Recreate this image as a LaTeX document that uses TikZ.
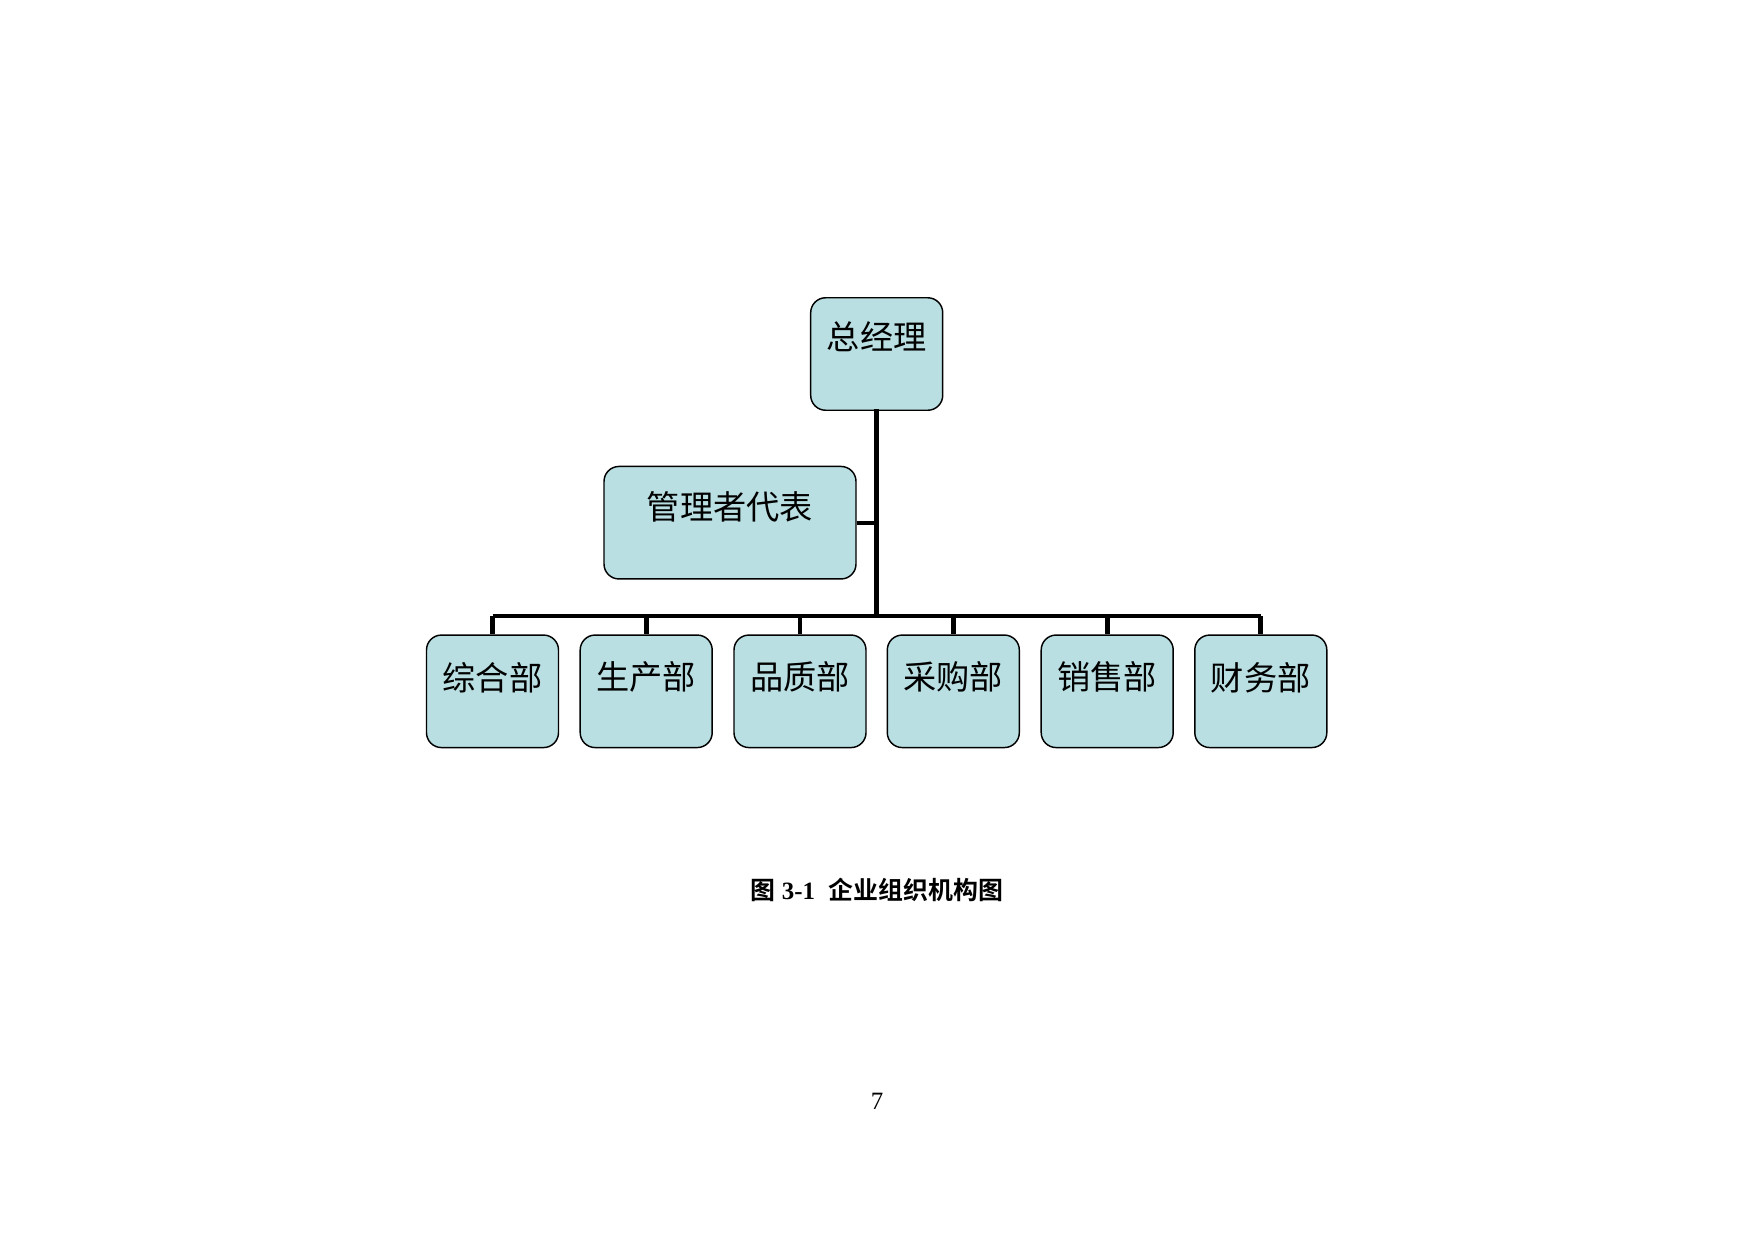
\documentclass[tikz,border=0pt]{standalone}
\usepackage{fontspec}
\setmainfont{Liberation Serif}
\newfontfamily\cjk{Noto Sans CJK SC}
\newfontfamily\cjkb{Noto Sans CJK SC Bold}
\definecolor{boxfill}{RGB}{185,223,226}
\tikzset{
  orgbox/.style={draw=black, line width=0.7pt, fill=boxfill, rounded corners=7.2pt,
    minimum width=63.6pt, minimum height=54.2pt, inner sep=0pt},
  widebox/.style={orgbox, minimum width=121.4pt},
  boxtext/.style={inner sep=0pt, font=\cjk\fontsize{16pt}{18pt}\selectfont},
  conn/.style={line width=2.25pt, line cap=rect},
  stub/.style={line width=2pt}
}
\begin{document}
\begin{tikzpicture}[x=0.48177pt, y=-0.48177pt]
\useasboundingbox (0,0) rectangle (1754,1241);
% top box
\node[orgbox] (gm) at (876.7,354) {};
\node[boxtext] (gmt) at (876.7,337) {总经理};
% management representative
\node[widebox] (mr) at (730,522.7) {};
\node[boxtext] (mrt) at (730,507) {管理者代表};
% departments
\foreach \i/\x/\t in {1/492.5/综合部, 2/646.2/生产部, 3/800/品质部, 4/953.3/采购部, 5/1107.2/销售部, 6/1260.8/财务部}{
  \node[orgbox] (d\i) at (\x,691.3) {};
  \node[boxtext] (d\i t) at (\x,677.3) {\t};
}
% connectors
\coordinate (busmid) at (876.7,616);
\coordinate (busL) at (492.5,616);
\coordinate (busR) at (1260.8,616);
\draw[conn] (gm.south) -- (busmid);
\draw[line width=2.25pt] (busL) -- (busR);
\foreach \i in {1,...,6}{
  \draw[line width=2.25pt] (d\i.north |- busL) -- (d\i.north);
}
\draw[stub] (mr.east) -- (mr.east -| gm.south);
% caption
\node[inner sep=0pt, font=\fontsize{12pt}{14pt}\selectfont] (cap) at (877,890)
  {{\cjkb 图}\hspace{0.25em}\textbf{3-1}\hspace{0.55em}{\cjkb 企业组织机构图}};
\node[inner sep=0pt, font=\fontsize{12pt}{14pt}\selectfont] (pg) at (877,1101) {7};
\end{tikzpicture}
\end{document}
